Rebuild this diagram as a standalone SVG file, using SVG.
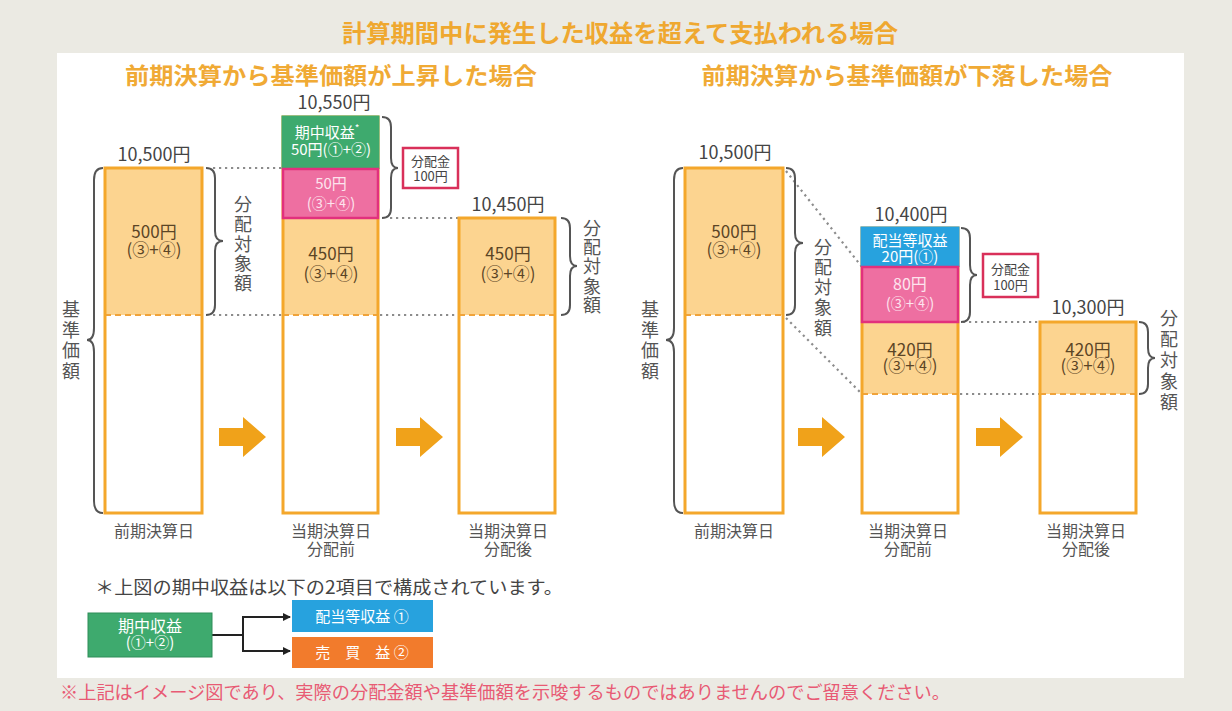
<svg xmlns="http://www.w3.org/2000/svg" width="1232" height="711" viewBox="0 0 1232 711">
<style>
text{font-family:"Noto Sans CJK JP","Noto Sans",sans-serif;}
.bg{fill:#ebeae3;}
.panel{fill:#ffffff;}
.title{fill:#efa830;font-weight:bold;font-size:24px;text-anchor:middle;}
.sub{fill:#f0aa35;font-weight:bold;font-size:23px;text-anchor:middle;}
.bar{fill:none;stroke:#f4a72b;stroke-width:3;}
.fo{fill:#fcd490;}
.dash{stroke:#f0a33a;stroke-width:2;stroke-dasharray:6 4;fill:none;}
.dot{stroke:#8c8c8c;stroke-width:2.2;stroke-dasharray:2.2 3.8;fill:none;}
.brace{stroke:#555;stroke-width:2;fill:none;}
.val{font-size:18px;fill:#444;text-anchor:middle;}
.brn{font-size:17px;fill:#5b4526;text-anchor:middle;}
.wt{font-size:15px;fill:#ffffff;text-anchor:middle;}
.pk{font-size:15px;fill:#fde4ee;text-anchor:middle;}
.lbl{font-size:16px;fill:#555;text-anchor:middle;}
.vt{font-size:18px;fill:#555;text-anchor:middle;}
.box{fill:#fff;stroke:#d9305a;stroke-width:2.5;}
.bx{font-size:13px;fill:#444;text-anchor:middle;}
.arr{fill:#f0a21a;}
.lk{stroke:#222;stroke-width:2;fill:none;}
.note{font-size:18px;fill:#444;}
.foot{font-size:18px;fill:#e85a74;}
</style>
<defs>
<path id="bigArrow" d="M0,11 H24 V0 L47,20 L24,40 V29 H0 Z"/>
<marker id="ah" markerWidth="8" markerHeight="8" refX="7" refY="4" orient="auto" markerUnits="userSpaceOnUse">
<path d="M0,0 L8,4 L0,8 Z" fill="#222"/>
</marker>
</defs>

<rect class="bg" x="0" y="0" width="1232" height="711"/>
<rect class="panel" x="57" y="53" width="1127" height="625"/>

<text class="title" x="620" y="42" textLength="556" lengthAdjust="spacingAndGlyphs">計算期間中に発生した収益を超えて支払われる場合</text>
<text class="sub" x="331" y="84" textLength="412" lengthAdjust="spacingAndGlyphs">前期決算から基準価額が上昇した場合</text>
<text class="sub" x="907" y="84" textLength="411" lengthAdjust="spacingAndGlyphs">前期決算から基準価額が下落した場合</text>

<!-- connectors -->
<g id="connectors">
<line class="dot" x1="213" y1="168" x2="283" y2="168"/>
<line class="dot" x1="213" y1="315" x2="283" y2="315"/>
<line class="dot" x1="380" y1="315" x2="459" y2="315"/>
<line class="dot" x1="390" y1="218" x2="459" y2="218"/>
<line class="dot" x1="786" y1="171" x2="862" y2="267"/>
<line class="dot" x1="786" y1="318" x2="862" y2="394"/>
<line class="dot" x1="963" y1="322" x2="1040" y2="322"/>
<line class="dot" x1="960" y1="394" x2="1040" y2="394"/>
<use href="#bigArrow" class="arr" x="219" y="417"/>
<use href="#bigArrow" class="arr" x="396" y="417"/>
<use href="#bigArrow" class="arr" x="798" y="417"/>
<use href="#bigArrow" class="arr" x="976" y="417"/>
<path class="lk" d="M212,635 H243"/>
<path class="lk" d="M243,617 V651"/>
<path class="lk" d="M242,617 H290" marker-end="url(#ah)"/>
<path class="lk" d="M242,651 H290" marker-end="url(#ah)"/>
</g>

<!-- LEFT PANEL -->
<g id="L-bar1">
<rect class="fo" x="105" y="168" width="97" height="147"/>
<line class="dash" x1="105" y1="315" x2="202" y2="315"/>
<rect class="bar" x="105" y="168" width="97" height="345"/>
<text class="val" x="154" y="161">10,500円</text>
<text class="brn"><tspan x="154" y="238">500円</tspan><tspan x="154" y="256">(③+④)</tspan></text>
<text class="lbl" x="154" y="537">前期決算日</text>
</g>
<g id="L-brace-base">
<path class="brace" d="M103,168 Q94,168 94,180 L94,328 Q94,340 87,340 Q94,340 94,352 L94,501 Q94,513 103,513"/>
<text class="vt"><tspan x="71" y="316">基</tspan><tspan x="71" y="336.5">準</tspan><tspan x="71" y="357">価</tspan><tspan x="71" y="377.5">額</tspan></text>
</g>
<g id="L-brace1">
<path class="brace" d="M206,168 Q215,168 215,178 L215,231 Q215,241 223,241 Q215,241 215,251 L215,305 Q215,315 206,315"/>
<text class="vt"><tspan x="243" y="211">分</tspan><tspan x="243" y="231">配</tspan><tspan x="243" y="251">対</tspan><tspan x="243" y="270">象</tspan><tspan x="243" y="290">額</tspan></text>
</g>
<g id="L-bar2">
<rect class="fo" x="283" y="218" width="95" height="97"/>
<line class="dash" x1="283" y1="315" x2="378" y2="315"/>
<rect class="bar" x="283" y="117" width="95" height="396"/>
<rect x="281.5" y="115.5" width="98" height="53.5" fill="#3eaa6e"/>
<rect x="283" y="169" width="95" height="49" fill="#ee6fa1" stroke="#e2307d" stroke-width="2.5"/>
<text class="val" x="334" y="109">10,550円</text>
<text class="wt"><tspan x="327" y="138">期中収益</tspan><tspan font-size="10" dy="-6">*</tspan><tspan x="331" y="155">50円(①+②)</tspan></text>
<text class="pk"><tspan x="331" y="189">50円</tspan><tspan x="331" y="209">(③+④)</tspan></text>
<text class="brn"><tspan x="331" y="260">450円</tspan><tspan x="331" y="280">(③+④)</tspan></text>
<text class="lbl"><tspan x="331" y="537">当期決算日</tspan><tspan x="331" y="555">分配前</tspan></text>
</g>
<g id="L-brace2">
<path class="brace" d="M382,117 Q391,117 391,127 L391,158 Q391,168 398,168 Q391,168 391,178 L391,208 Q391,218 382,218"/>
</g>
<g id="L-dist">
<rect class="box" x="403" y="148" width="55" height="40"/>
<text class="bx"><tspan x="430.5" y="166">分配金</tspan><tspan x="430.5" y="181">100円</tspan></text>
</g>
<g id="L-bar3">
<rect class="fo" x="459" y="218" width="96" height="97"/>
<line class="dash" x1="459" y1="315" x2="555" y2="315"/>
<rect class="bar" x="459" y="218" width="96" height="295"/>
<text class="val" x="508" y="211">10,450円</text>
<text class="brn"><tspan x="508" y="260">450円</tspan><tspan x="508" y="280">(③+④)</tspan></text>
<text class="lbl"><tspan x="508" y="537">当期決算日</tspan><tspan x="508" y="555">分配後</tspan></text>
</g>
<g id="L-brace3">
<path class="brace" d="M561,218 Q570,218 570,228 L570,256 Q570,266 577,266 Q570,266 570,276 L570,305 Q570,315 561,315"/>
<text class="vt"><tspan x="592" y="235">分</tspan><tspan x="592" y="254">配</tspan><tspan x="592" y="273">対</tspan><tspan x="592" y="293">象</tspan><tspan x="592" y="312">額</tspan></text>
</g>

<!-- RIGHT PANEL -->
<g id="R-bar1">
<rect class="fo" x="685" y="168" width="98" height="147"/>
<line class="dash" x1="685" y1="315" x2="783" y2="315"/>
<rect class="bar" x="685" y="168" width="98" height="345"/>
<text class="val" x="735" y="159">10,500円</text>
<text class="brn"><tspan x="734" y="238">500円</tspan><tspan x="734" y="256">(③+④)</tspan></text>
<text class="lbl" x="734" y="537">前期決算日</text>
</g>
<g id="R-brace-base">
<path class="brace" d="M683,168 Q674,168 674,180 L674,328 Q674,340 666,340 Q674,340 674,352 L674,501 Q674,513 683,513"/>
<text class="vt"><tspan x="650" y="316">基</tspan><tspan x="650" y="336.5">準</tspan><tspan x="650" y="357">価</tspan><tspan x="650" y="377.5">額</tspan></text>
</g>
<g id="R-brace1">
<path class="brace" d="M786,168 Q795,168 795,178 L795,233 Q795,243 803,243 Q795,243 795,253 L795,305 Q795,315 786,315"/>
<text class="vt"><tspan x="823" y="254">分</tspan><tspan x="823" y="274">配</tspan><tspan x="823" y="294">対</tspan><tspan x="823" y="314">象</tspan><tspan x="823" y="335">額</tspan></text>
</g>
<g id="R-bar2">
<rect class="fo" x="862" y="322" width="96" height="72"/>
<line class="dash" x1="862" y1="394" x2="958" y2="394"/>
<rect class="bar" x="862" y="228" width="96" height="285"/>
<rect x="860.5" y="226.5" width="99" height="40.5" fill="#27a2de"/>
<rect x="862" y="267" width="96" height="55" fill="#ee6fa1" stroke="#e2307d" stroke-width="2.5"/>
<text class="val" x="911" y="221">10,400円</text>
<text class="wt" font-size="16"><tspan x="910" y="246">配当等収益</tspan><tspan x="910" y="262">20円(①)</tspan></text>
<text class="pk"><tspan x="910" y="290" font-size="16">80円</tspan><tspan x="910" y="309">(③+④)</tspan></text>
<text class="brn"><tspan x="910" y="356">420円</tspan><tspan x="910" y="372">(③+④)</tspan></text>
<text class="lbl"><tspan x="908" y="537">当期決算日</tspan><tspan x="908" y="555">分配前</tspan></text>
</g>
<g id="R-brace2">
<path class="brace" d="M961,228 Q970,228 970,238 L970,265 Q970,275 977,275 Q970,275 970,285 L970,312 Q970,322 961,322"/>
</g>
<g id="R-dist">
<rect class="box" x="983" y="254" width="55" height="43"/>
<text class="bx"><tspan x="1010.5" y="274">分配金</tspan><tspan x="1010.5" y="290">100円</tspan></text>
</g>
<g id="R-bar3">
<rect class="fo" x="1040" y="322" width="96" height="72"/>
<line class="dash" x1="1040" y1="394" x2="1136" y2="394"/>
<rect class="bar" x="1040" y="322" width="96" height="191"/>
<text class="val" x="1088" y="314">10,300円</text>
<text class="brn"><tspan x="1088" y="356">420円</tspan><tspan x="1088" y="372">(③+④)</tspan></text>
<text class="lbl"><tspan x="1086" y="537">当期決算日</tspan><tspan x="1086" y="555">分配後</tspan></text>
</g>
<g id="R-brace3">
<path class="brace" d="M1139,322 Q1148,322 1148,332 L1148,348 Q1148,358 1155,358 Q1148,358 1148,368 L1148,384 Q1148,394 1139,394"/>
<text class="vt"><tspan x="1169" y="325">分</tspan><tspan x="1169" y="346">配</tspan><tspan x="1169" y="367">対</tspan><tspan x="1169" y="388">象</tspan><tspan x="1169" y="409">額</tspan></text>
</g>

<!-- legend -->
<text class="note" x="95" y="594" textLength="468" lengthAdjust="spacingAndGlyphs">＊上図の期中収益は以下の2項目で構成されています。</text>
<g id="legend-income">
<rect x="88" y="613" width="124" height="44" fill="#3eaa6e" stroke="#2f8d58" stroke-width="1"/>
<text class="wt"><tspan x="150" y="632" font-size="16">期中収益</tspan><tspan x="150" y="648">(①+②)</tspan></text>
</g>
<g id="legend-dividend">
<rect x="292" y="600" width="141" height="32" fill="#27a2de"/>
<text class="wt" x="362" y="622" font-size="16">配当等収益 ①</text>
</g>
<g id="legend-sale">
<rect x="292" y="637" width="141" height="31" fill="#f27b2c"/>
<text class="wt" x="362" y="658" font-size="16">売　買　益 ②</text>
</g>

<text class="foot" x="60" y="699" textLength="890" lengthAdjust="spacingAndGlyphs">※上記はイメージ図であり、実際の分配金額や基準価額を示唆するものではありませんのでご留意ください。</text>
</svg>
